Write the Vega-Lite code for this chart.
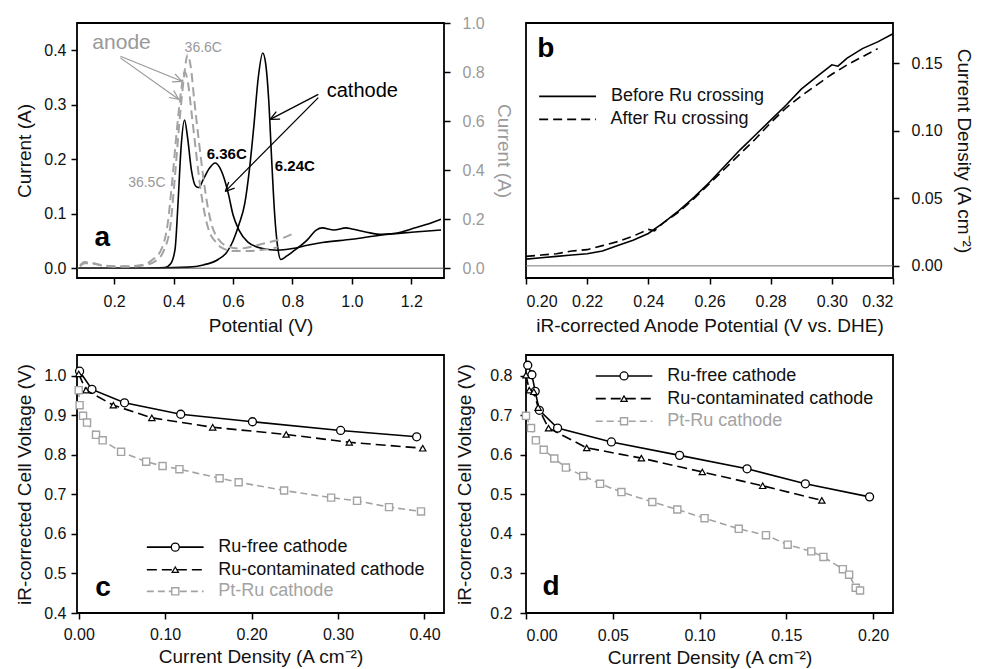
{
  "$schema": "https://vega.github.io/schema/vega-lite/v6.json",
  "background": "white",
  "data": {"values": [{"label": "annotation"}]},
  "padding": {"left": 14, "top": 14, "right": 0, "bottom": 0},
  "columns": 2,
  "spacing": {"row": 18, "column": -60},
  "config": {
    "view": {"stroke": "black", "strokeWidth": 1.8},
    "axis": {
      "domain": false, "grid": false, "tickColor": "black", "tickWidth": 1.5, "tickSize": 6,
      "labelFont": "Liberation Sans", "labelFontSize": 16, "labelColor": "#111", "labelPadding": 8,
      "titleFont": "Liberation Sans", "titleFontSize": 19, "titleFontWeight": "normal", "titleColor": "#111", "titlePadding": 6
    }
  },
  "concat": [
    {
      "width": 367, "height": 255,
      "resolve": {"scale": {"y": "independent"}},
      "layer": [
        {
          "layer": [
            {
              "data": {"values": [
                {"p": 0.08, "i": 0.0}, {"p": 0.2, "i": 0.0}, {"p": 0.3, "i": 0.0}, {"p": 0.37, "i": 0.001}, {"p": 0.39, "i": 0.008},
                {"p": 0.405, "i": 0.035}, {"p": 0.415, "i": 0.12}, {"p": 0.425, "i": 0.22}, {"p": 0.437, "i": 0.272}, {"p": 0.447, "i": 0.24},
                {"p": 0.46, "i": 0.18}, {"p": 0.475, "i": 0.15}, {"p": 0.485, "i": 0.148}, {"p": 0.5, "i": 0.163}, {"p": 0.52, "i": 0.183},
                {"p": 0.54, "i": 0.193}, {"p": 0.555, "i": 0.185}, {"p": 0.57, "i": 0.165}, {"p": 0.585, "i": 0.135}, {"p": 0.6, "i": 0.098},
                {"p": 0.62, "i": 0.07}, {"p": 0.65, "i": 0.048}, {"p": 0.7, "i": 0.036}, {"p": 0.75, "i": 0.033}, {"p": 0.8, "i": 0.036},
                {"p": 0.85, "i": 0.042}, {"p": 0.9, "i": 0.047}, {"p": 1.0, "i": 0.053}, {"p": 1.1, "i": 0.061}, {"p": 1.2, "i": 0.066}, {"p": 1.3, "i": 0.07}
              ]},
              "mark": {"type": "line", "color": "black", "strokeWidth": 1.6, "interpolate": "monotone"},
              "encoding": {
                "x": {"field": "p", "type": "quantitative", "scale": {"domain": [0.075, 1.31], "nice": false, "zero": false},
                  "axis": {"title": "Potential (V)", "values": [0.2, 0.4, 0.6, 0.8, 1.0, 1.2], "format": ".1f", "labelPadding": 9, "titlePadding": 7}},
                "y": {"field": "i", "type": "quantitative", "scale": {"domain": [-0.018, 0.45], "nice": false, "zero": false},
                  "axis": {"title": "Current (A)", "values": [0, 0.1, 0.2, 0.3, 0.4], "format": ".1f", "labelPadding": 5, "titlePadding": 9}}
              }
            },
            {
              "data": {"values": [
                {"p": 0.08, "i": 0.0}, {"p": 0.3, "i": 0.0}, {"p": 0.45, "i": 0.002}, {"p": 0.5, "i": 0.006}, {"p": 0.55, "i": 0.016},
                {"p": 0.58, "i": 0.03}, {"p": 0.6, "i": 0.05}, {"p": 0.62, "i": 0.08}, {"p": 0.64, "i": 0.12}, {"p": 0.655, "i": 0.18},
                {"p": 0.67, "i": 0.26}, {"p": 0.685, "i": 0.35}, {"p": 0.7, "i": 0.395}, {"p": 0.71, "i": 0.375}, {"p": 0.72, "i": 0.31},
                {"p": 0.73, "i": 0.2}, {"p": 0.74, "i": 0.1}, {"p": 0.75, "i": 0.04}, {"p": 0.761, "i": 0.016}, {"p": 0.78, "i": 0.022},
                {"p": 0.8, "i": 0.03}, {"p": 0.85, "i": 0.052}, {"p": 0.88, "i": 0.07}, {"p": 0.9, "i": 0.074}, {"p": 0.94, "i": 0.07},
                {"p": 0.98, "i": 0.074}, {"p": 1.0, "i": 0.072}, {"p": 1.05, "i": 0.066}, {"p": 1.1, "i": 0.062}, {"p": 1.15, "i": 0.064},
                {"p": 1.2, "i": 0.072}, {"p": 1.25, "i": 0.08}, {"p": 1.3, "i": 0.09}
              ]},
              "mark": {"type": "line", "color": "black", "strokeWidth": 1.6, "interpolate": "monotone"},
              "encoding": {
                "x": {"field": "p", "type": "quantitative"},
                "y": {"field": "i", "type": "quantitative"}
              }
            },
            {"mark": {"type": "rule", "color": "#555", "strokeWidth": 1}, "encoding": {"y": {"datum": 0, "type": "quantitative"}}},
            {"mark": {"type": "rule", "color": "#999", "strokeWidth": 1.2}, "encoding": {"x": {"datum": 0.221}, "y": {"datum": 0.389}, "x2": {"datum": 0.428}, "y2": {"datum": 0.343}}},
            {"mark": {"type": "rule", "color": "#999", "strokeWidth": 1.2}, "encoding": {"x": {"datum": 0.3945}, "y": {"datum": 0.3421}, "x2": {"datum": 0.428}, "y2": {"datum": 0.343}}},
            {"mark": {"type": "rule", "color": "#999", "strokeWidth": 1.2}, "encoding": {"x": {"datum": 0.4051}, "y": {"datum": 0.3564}, "x2": {"datum": 0.428}, "y2": {"datum": 0.343}}},
            {"mark": {"type": "rule", "color": "#999", "strokeWidth": 1.2}, "encoding": {"x": {"datum": 0.221}, "y": {"datum": 0.386}, "x2": {"datum": 0.417}, "y2": {"datum": 0.31}}},
            {"mark": {"type": "rule", "color": "#999", "strokeWidth": 1.2}, "encoding": {"x": {"datum": 0.384}, "y": {"datum": 0.3133}, "x2": {"datum": 0.417}, "y2": {"datum": 0.31}}},
            {"mark": {"type": "rule", "color": "#999", "strokeWidth": 1.2}, "encoding": {"x": {"datum": 0.4005}, "y": {"datum": 0.326}, "x2": {"datum": 0.417}, "y2": {"datum": 0.31}}},
            {"mark": {"type": "rule", "color": "black", "strokeWidth": 1.3}, "encoding": {"x": {"datum": 0.887}, "y": {"datum": 0.319}, "x2": {"datum": 0.725}, "y2": {"datum": 0.273}}},
            {"mark": {"type": "rule", "color": "black", "strokeWidth": 1.3}, "encoding": {"x": {"datum": 0.7455}, "y": {"datum": 0.2875}, "x2": {"datum": 0.725}, "y2": {"datum": 0.273}}},
            {"mark": {"type": "rule", "color": "black", "strokeWidth": 1.3}, "encoding": {"x": {"datum": 0.7585}, "y": {"datum": 0.2737}, "x2": {"datum": 0.725}, "y2": {"datum": 0.273}}},
            {"mark": {"type": "rule", "color": "black", "strokeWidth": 1.3}, "encoding": {"x": {"datum": 0.887}, "y": {"datum": 0.313}, "x2": {"datum": 0.574}, "y2": {"datum": 0.141}}},
            {"mark": {"type": "rule", "color": "black", "strokeWidth": 1.3}, "encoding": {"x": {"datum": 0.5857}, "y": {"datum": 0.1582}, "x2": {"datum": 0.574}, "y2": {"datum": 0.141}}},
            {"mark": {"type": "rule", "color": "black", "strokeWidth": 1.3}, "encoding": {"x": {"datum": 0.6056}, "y": {"datum": 0.1471}, "x2": {"datum": 0.574}, "y2": {"datum": 0.141}}},
            {"mark": {"type": "text", "font": "Liberation Sans", "text": "anode", "color": "#999", "fontSize": 21, "align": "center", "baseline": "middle"}, "encoding": {"x": {"datum": 0.225}, "y": {"datum": 0.413}}},
            {"mark": {"type": "text", "font": "Liberation Sans", "text": "36.6C", "color": "#999", "fontSize": 14, "align": "center", "baseline": "middle"}, "encoding": {"x": {"datum": 0.5}, "y": {"datum": 0.404}}},
            {"mark": {"type": "text", "font": "Liberation Sans", "text": "36.5C", "color": "#999", "fontSize": 14, "align": "center", "baseline": "middle"}, "encoding": {"x": {"datum": 0.31}, "y": {"datum": 0.157}}},
            {"mark": {"type": "text", "font": "Liberation Sans", "text": "6.36C", "color": "black", "fontSize": 15, "fontWeight": "bold", "align": "center", "baseline": "middle"}, "encoding": {"x": {"datum": 0.579}, "y": {"datum": 0.209}}},
            {"mark": {"type": "text", "font": "Liberation Sans", "text": "6.24C", "color": "black", "fontSize": 15, "fontWeight": "bold", "align": "center", "baseline": "middle"}, "encoding": {"x": {"datum": 0.808}, "y": {"datum": 0.187}}},
            {"mark": {"type": "text", "font": "Liberation Sans", "text": "cathode", "color": "black", "fontSize": 20, "align": "center", "baseline": "middle"}, "encoding": {"x": {"datum": 1.035}, "y": {"datum": 0.326}}},
            {"mark": {"type": "text", "font": "Liberation Sans", "text": "a", "color": "black", "fontSize": 28, "fontWeight": "bold", "align": "center", "baseline": "middle"}, "encoding": {"x": {"datum": 0.16}, "y": {"datum": 0.055}}}
          ]
        },
        {
          "layer": [
            {
              "data": {"values": [
                {"p": 0.085, "i": 0.01}, {"p": 0.1, "i": 0.025}, {"p": 0.13, "i": 0.02}, {"p": 0.16, "i": 0.012}, {"p": 0.2, "i": 0.008},
                {"p": 0.25, "i": 0.008}, {"p": 0.3, "i": 0.015}, {"p": 0.33, "i": 0.035}, {"p": 0.36, "i": 0.08}, {"p": 0.38, "i": 0.18},
                {"p": 0.395, "i": 0.35}, {"p": 0.41, "i": 0.55}, {"p": 0.425, "i": 0.72}, {"p": 0.437, "i": 0.8}, {"p": 0.448, "i": 0.76},
                {"p": 0.46, "i": 0.64}, {"p": 0.475, "i": 0.48}, {"p": 0.49, "i": 0.33}, {"p": 0.505, "i": 0.22}, {"p": 0.52, "i": 0.15},
                {"p": 0.54, "i": 0.11}, {"p": 0.56, "i": 0.085}, {"p": 0.6, "i": 0.07}, {"p": 0.65, "i": 0.07}, {"p": 0.7, "i": 0.075}, {"p": 0.75, "i": 0.085}
              ]},
              "mark": {"type": "line", "color": "#a3a3a3", "strokeWidth": 2, "strokeDash": [9, 5], "interpolate": "monotone"},
              "encoding": {
                "x": {"field": "p", "type": "quantitative"},
                "y": {"field": "i", "type": "quantitative", "scale": {"domain": [-0.04, 1.0], "nice": false, "zero": false},
                  "axis": {"orient": "right", "title": "Current (A)", "values": [0, 0.2, 0.4, 0.6, 0.8, 1.0], "format": ".1f",
                    "labelColor": "#9a9a9a", "titleColor": "#9a9a9a", "labelPadding": 12, "titlePadding": 9}}
              }
            },
            {
              "data": {"values": [
                {"p": 0.085, "i": 0.008}, {"p": 0.1, "i": 0.02}, {"p": 0.13, "i": 0.018}, {"p": 0.16, "i": 0.01}, {"p": 0.2, "i": 0.006},
                {"p": 0.25, "i": 0.006}, {"p": 0.3, "i": 0.012}, {"p": 0.34, "i": 0.03}, {"p": 0.37, "i": 0.08}, {"p": 0.39, "i": 0.18},
                {"p": 0.405, "i": 0.38}, {"p": 0.42, "i": 0.6}, {"p": 0.435, "i": 0.78}, {"p": 0.447, "i": 0.87}, {"p": 0.458, "i": 0.82},
                {"p": 0.47, "i": 0.68}, {"p": 0.485, "i": 0.52}, {"p": 0.5, "i": 0.37}, {"p": 0.515, "i": 0.25}, {"p": 0.53, "i": 0.17},
                {"p": 0.55, "i": 0.12}, {"p": 0.58, "i": 0.09}, {"p": 0.62, "i": 0.08}, {"p": 0.7, "i": 0.1}, {"p": 0.75, "i": 0.115}, {"p": 0.8, "i": 0.14}
              ]},
              "mark": {"type": "line", "color": "#a3a3a3", "strokeWidth": 2, "strokeDash": [9, 5], "interpolate": "monotone"},
              "encoding": {
                "x": {"field": "p", "type": "quantitative"},
                "y": {"field": "i", "type": "quantitative"}
              }
            }
          ]
        }
      ]
    },
    {
      "width": 367, "height": 255,
      "layer": [
        {
          "data": {"values": [
            {"p": 0.2, "j": 0.005}, {"p": 0.205, "j": 0.006}, {"p": 0.21, "j": 0.007}, {"p": 0.215, "j": 0.008}, {"p": 0.22, "j": 0.009},
            {"p": 0.225, "j": 0.011}, {"p": 0.23, "j": 0.015}, {"p": 0.235, "j": 0.019}, {"p": 0.24, "j": 0.024}, {"p": 0.245, "j": 0.032},
            {"p": 0.25, "j": 0.041}, {"p": 0.255, "j": 0.051}, {"p": 0.26, "j": 0.062}, {"p": 0.265, "j": 0.074}, {"p": 0.27, "j": 0.086},
            {"p": 0.275, "j": 0.097}, {"p": 0.28, "j": 0.108}, {"p": 0.285, "j": 0.119}, {"p": 0.29, "j": 0.131}, {"p": 0.295, "j": 0.14},
            {"p": 0.3, "j": 0.149}, {"p": 0.302, "j": 0.148}, {"p": 0.305, "j": 0.154}, {"p": 0.31, "j": 0.161}, {"p": 0.315, "j": 0.166}, {"p": 0.32, "j": 0.172}
          ]},
          "mark": {"type": "line", "color": "black", "strokeWidth": 1.6},
          "encoding": {
            "x": {"field": "p", "type": "quantitative", "scale": {"domain": [0.2, 0.32], "nice": false, "zero": false},
              "axis": {"title": "iR-corrected Anode Potential (V vs. DHE)", "values": [0.2, 0.22, 0.24, 0.26, 0.28, 0.3, 0.32], "format": ".2f", "labelPadding": 9, "titlePadding": 7}},
            "y": {"field": "j", "type": "quantitative", "scale": {"domain": [-0.009, 0.18], "nice": false, "zero": false},
              "axis": {"orient": "right", "title": "Current Density (A cm⁻²)", "values": [0, 0.05, 0.1, 0.15], "format": ".2f", "labelPadding": 12, "titlePadding": 11}}
          }
        },
        {
          "data": {"values": [
            {"p": 0.2, "j": 0.007}, {"p": 0.205, "j": 0.008}, {"p": 0.21, "j": 0.009}, {"p": 0.215, "j": 0.011}, {"p": 0.22, "j": 0.012},
            {"p": 0.225, "j": 0.015}, {"p": 0.23, "j": 0.018}, {"p": 0.235, "j": 0.022}, {"p": 0.24, "j": 0.027}, {"p": 0.242, "j": 0.026},
            {"p": 0.245, "j": 0.032}, {"p": 0.25, "j": 0.04}, {"p": 0.255, "j": 0.05}, {"p": 0.26, "j": 0.061}, {"p": 0.265, "j": 0.072},
            {"p": 0.27, "j": 0.083}, {"p": 0.275, "j": 0.094}, {"p": 0.28, "j": 0.106}, {"p": 0.285, "j": 0.117}, {"p": 0.29, "j": 0.126},
            {"p": 0.295, "j": 0.134}, {"p": 0.3, "j": 0.142}, {"p": 0.305, "j": 0.149}, {"p": 0.31, "j": 0.155}, {"p": 0.315, "j": 0.161}
          ]},
          "mark": {"type": "line", "color": "black", "strokeWidth": 1.6, "strokeDash": [9, 5]},
          "encoding": {
            "x": {"field": "p", "type": "quantitative"},
            "y": {"field": "j", "type": "quantitative"}
          }
        },
        {"mark": {"type": "rule", "color": "#777", "strokeWidth": 1}, "encoding": {"y": {"datum": 0, "type": "quantitative"}}},
        {"mark": {"type": "rule", "color": "black", "strokeWidth": 1.6}, "encoding": {"x": {"datum": 0.2043}, "x2": {"datum": 0.2229}, "y": {"datum": 0.1256}}},
        {"mark": {"type": "rule", "color": "black", "strokeWidth": 1.8, "strokeDash": [9, 5]}, "encoding": {"x": {"datum": 0.2043}, "x2": {"datum": 0.2229}, "y": {"datum": 0.1086}}},
        {"mark": {"type": "text", "font": "Liberation Sans", "text": "Before Ru crossing", "fontSize": 18, "align": "left", "baseline": "middle", "color": "#111"}, "encoding": {"x": {"datum": 0.2278}, "y": {"datum": 0.1256}}},
        {"mark": {"type": "text", "font": "Liberation Sans", "text": "After Ru crossing", "fontSize": 18, "align": "left", "baseline": "middle", "color": "#111"}, "encoding": {"x": {"datum": 0.2276}, "y": {"datum": 0.1086}}},
        {"mark": {"type": "text", "font": "Liberation Sans", "text": "b", "fontSize": 28, "fontWeight": "bold", "align": "center", "baseline": "middle", "color": "black"}, "encoding": {"x": {"datum": 0.2065}, "y": {"datum": 0.161}}}
      ]
    },
    {
      "width": 367, "height": 258,
      "layer": [
        {
          "data": {"values": [
            {"j": 0.001, "v": 1.012}, {"j": 0.0153, "v": 0.966}, {"j": 0.053, "v": 0.932}, {"j": 0.118, "v": 0.903},
            {"j": 0.201, "v": 0.884}, {"j": 0.303, "v": 0.862}, {"j": 0.391, "v": 0.846}
          ]},
          "mark": {"type": "line", "color": "black", "strokeWidth": 1.6},
          "encoding": {
            "x": {"field": "j", "type": "quantitative", "scale": {"domain": [-0.002, 0.4226], "nice": false, "zero": false},
              "axis": {"title": "Current Density (A cm⁻²)", "values": [0, 0.1, 0.2, 0.3, 0.4], "format": ".2f", "labelPadding": 7, "titlePadding": 5}},
            "y": {"field": "v", "type": "quantitative", "scale": {"domain": [0.4, 1.053], "nice": false, "zero": false},
              "axis": {"title": "iR-corrected Cell Voltage (V)", "values": [0.4, 0.5, 0.6, 0.7, 0.8, 0.9, 1.0], "format": ".1f", "labelPadding": 5, "titlePadding": 9}}
          }
        },
        {
          "data": {"values": [
            {"j": 0.001, "v": 1.012}, {"j": 0.0153, "v": 0.966}, {"j": 0.053, "v": 0.932}, {"j": 0.118, "v": 0.903},
            {"j": 0.201, "v": 0.884}, {"j": 0.303, "v": 0.862}, {"j": 0.391, "v": 0.846}
          ]},
          "mark": {"type": "point", "shape": "circle", "filled": true, "fill": "white", "stroke": "black", "strokeWidth": 1.3, "size": 64, "opacity": 1},
          "encoding": {"x": {"field": "j", "type": "quantitative"}, "y": {"field": "v", "type": "quantitative"}}
        },
        {
          "data": {"values": [
            {"j": 0.0, "v": 1.005}, {"j": 0.0084, "v": 0.964}, {"j": 0.04, "v": 0.926}, {"j": 0.0846, "v": 0.894},
            {"j": 0.155, "v": 0.87}, {"j": 0.24, "v": 0.852}, {"j": 0.313, "v": 0.832}, {"j": 0.398, "v": 0.817}
          ]},
          "mark": {"type": "line", "color": "black", "strokeWidth": 1.6, "strokeDash": [10, 5]},
          "encoding": {"x": {"field": "j", "type": "quantitative"}, "y": {"field": "v", "type": "quantitative"}}
        },
        {
          "data": {"values": [
            {"j": 0.0, "v": 1.005}, {"j": 0.0084, "v": 0.964}, {"j": 0.04, "v": 0.926}, {"j": 0.0846, "v": 0.894},
            {"j": 0.155, "v": 0.87}, {"j": 0.24, "v": 0.852}, {"j": 0.313, "v": 0.832}, {"j": 0.398, "v": 0.817}
          ]},
          "mark": {"type": "point", "shape": "triangle-up", "filled": true, "fill": "white", "stroke": "black", "strokeWidth": 1.2, "size": 40, "opacity": 1},
          "encoding": {"x": {"field": "j", "type": "quantitative"}, "y": {"field": "v", "type": "quantitative"}}
        },
        {
          "data": {"values": [
            {"j": 0.0, "v": 0.964}, {"j": 0.001, "v": 0.926}, {"j": 0.005, "v": 0.899}, {"j": 0.0096, "v": 0.882},
            {"j": 0.02, "v": 0.851}, {"j": 0.0277, "v": 0.837}, {"j": 0.049, "v": 0.808}, {"j": 0.078, "v": 0.783},
            {"j": 0.097, "v": 0.772}, {"j": 0.1165, "v": 0.764}, {"j": 0.163, "v": 0.741}, {"j": 0.185, "v": 0.731},
            {"j": 0.2376, "v": 0.71}, {"j": 0.292, "v": 0.692}, {"j": 0.322, "v": 0.684}, {"j": 0.359, "v": 0.668}, {"j": 0.396, "v": 0.657}
          ]},
          "mark": {"type": "line", "color": "#a3a3a3", "strokeWidth": 1.6, "strokeDash": [7, 4]},
          "encoding": {"x": {"field": "j", "type": "quantitative"}, "y": {"field": "v", "type": "quantitative"}}
        },
        {
          "data": {"values": [
            {"j": 0.0, "v": 0.964}, {"j": 0.001, "v": 0.926}, {"j": 0.005, "v": 0.899}, {"j": 0.0096, "v": 0.882},
            {"j": 0.02, "v": 0.851}, {"j": 0.0277, "v": 0.837}, {"j": 0.049, "v": 0.808}, {"j": 0.078, "v": 0.783},
            {"j": 0.097, "v": 0.772}, {"j": 0.1165, "v": 0.764}, {"j": 0.163, "v": 0.741}, {"j": 0.185, "v": 0.731},
            {"j": 0.2376, "v": 0.71}, {"j": 0.292, "v": 0.692}, {"j": 0.322, "v": 0.684}, {"j": 0.359, "v": 0.668}, {"j": 0.396, "v": 0.657}
          ]},
          "mark": {"type": "point", "shape": "square", "filled": true, "fill": "white", "stroke": "#a3a3a3", "strokeWidth": 1.4, "size": 50, "opacity": 1},
          "encoding": {"x": {"field": "j", "type": "quantitative"}, "y": {"field": "v", "type": "quantitative"}}
        },
        {"mark": {"type": "rule", "color": "black", "strokeWidth": 1.6}, "encoding": {"x": {"datum": 0.0788}, "x2": {"datum": 0.1445}, "y": {"datum": 0.5667}}},
        {"mark": {"type": "point", "shape": "circle", "filled": true, "fill": "white", "stroke": "black", "strokeWidth": 1.3, "size": 64, "opacity": 1}, "encoding": {"x": {"datum": 0.1117}, "y": {"datum": 0.5667}}},
        {"mark": {"type": "rule", "color": "black", "strokeWidth": 1.6, "strokeDash": [10, 5]}, "encoding": {"x": {"datum": 0.0788}, "x2": {"datum": 0.1445}, "y": {"datum": 0.5096}}},
        {"mark": {"type": "point", "shape": "triangle-up", "filled": true, "fill": "white", "stroke": "black", "strokeWidth": 1.2, "size": 40, "opacity": 1}, "encoding": {"x": {"datum": 0.1117}, "y": {"datum": 0.5096}}},
        {"mark": {"type": "rule", "color": "#a3a3a3", "strokeWidth": 1.6, "strokeDash": [7, 4]}, "encoding": {"x": {"datum": 0.0788}, "x2": {"datum": 0.1445}, "y": {"datum": 0.4548}}},
        {"mark": {"type": "point", "shape": "square", "filled": true, "fill": "white", "stroke": "#a3a3a3", "strokeWidth": 1.4, "size": 50, "opacity": 1}, "encoding": {"x": {"datum": 0.1117}, "y": {"datum": 0.4548}}},
        {"mark": {"type": "text", "font": "Liberation Sans", "text": "Ru-free cathode", "fontSize": 18, "align": "left", "baseline": "middle", "color": "#111"}, "encoding": {"x": {"datum": 0.1615}, "y": {"datum": 0.5667}}},
        {"mark": {"type": "text", "font": "Liberation Sans", "text": "Ru-contaminated cathode", "fontSize": 18, "align": "left", "baseline": "middle", "color": "#111"}, "encoding": {"x": {"datum": 0.1615}, "y": {"datum": 0.5096}}},
        {"mark": {"type": "text", "font": "Liberation Sans", "text": "Pt-Ru cathode", "fontSize": 18, "align": "left", "baseline": "middle", "color": "#a3a3a3"}, "encoding": {"x": {"datum": 0.1615}, "y": {"datum": 0.4548}}},
        {"mark": {"type": "text", "font": "Liberation Sans", "text": "c", "fontSize": 28, "fontWeight": "bold", "align": "center", "baseline": "middle", "color": "black"}, "encoding": {"x": {"datum": 0.028}, "y": {"datum": 0.463}}}
      ]
    },
    {
      "width": 367, "height": 258,
      "layer": [
        {
          "data": {"values": [
            {"j": 0.001, "v": 0.827}, {"j": 0.0034, "v": 0.803}, {"j": 0.0053, "v": 0.761}, {"j": 0.0077, "v": 0.713},
            {"j": 0.0182, "v": 0.668}, {"j": 0.0492, "v": 0.633}, {"j": 0.0885, "v": 0.599}, {"j": 0.1274, "v": 0.565},
            {"j": 0.161, "v": 0.527}, {"j": 0.198, "v": 0.494}
          ]},
          "mark": {"type": "line", "color": "black", "strokeWidth": 1.6},
          "encoding": {
            "x": {"field": "j", "type": "quantitative", "scale": {"domain": [0, 0.2115], "nice": false, "zero": false},
              "axis": {"title": "Current Density (A cm⁻²)", "values": [0, 0.05, 0.1, 0.15, 0.2], "format": ".2f", "labelPadding": 8, "titlePadding": 5}},
            "y": {"field": "v", "type": "quantitative", "scale": {"domain": [0.2, 0.853], "nice": false, "zero": false},
              "axis": {"title": "iR-corrected Cell Voltage (V)", "values": [0.2, 0.3, 0.4, 0.5, 0.6, 0.7, 0.8], "format": ".1f", "labelPadding": 8, "titlePadding": 15}}
          }
        },
        {
          "data": {"values": [
            {"j": 0.001, "v": 0.827}, {"j": 0.0034, "v": 0.803}, {"j": 0.0053, "v": 0.761}, {"j": 0.0077, "v": 0.713},
            {"j": 0.0182, "v": 0.668}, {"j": 0.0492, "v": 0.633}, {"j": 0.0885, "v": 0.599}, {"j": 0.1274, "v": 0.565},
            {"j": 0.161, "v": 0.527}, {"j": 0.198, "v": 0.494}
          ]},
          "mark": {"type": "point", "shape": "circle", "filled": true, "fill": "white", "stroke": "black", "strokeWidth": 1.3, "size": 64, "opacity": 1},
          "encoding": {"x": {"field": "j", "type": "quantitative"}, "y": {"field": "v", "type": "quantitative"}}
        },
        {
          "data": {"values": [
            {"j": 0.0, "v": 0.802}, {"j": 0.0019, "v": 0.764}, {"j": 0.0045, "v": 0.76}, {"j": 0.007, "v": 0.72},
            {"j": 0.013, "v": 0.668}, {"j": 0.035, "v": 0.618}, {"j": 0.0665, "v": 0.592}, {"j": 0.1016, "v": 0.557},
            {"j": 0.1364, "v": 0.522}, {"j": 0.1705, "v": 0.485}
          ]},
          "mark": {"type": "line", "color": "black", "strokeWidth": 1.6, "strokeDash": [10, 5]},
          "encoding": {"x": {"field": "j", "type": "quantitative"}, "y": {"field": "v", "type": "quantitative"}}
        },
        {
          "data": {"values": [
            {"j": 0.0, "v": 0.802}, {"j": 0.0019, "v": 0.764}, {"j": 0.0045, "v": 0.76}, {"j": 0.007, "v": 0.72},
            {"j": 0.013, "v": 0.668}, {"j": 0.035, "v": 0.618}, {"j": 0.0665, "v": 0.592}, {"j": 0.1016, "v": 0.557},
            {"j": 0.1364, "v": 0.522}, {"j": 0.1705, "v": 0.485}
          ]},
          "mark": {"type": "point", "shape": "triangle-up", "filled": true, "fill": "white", "stroke": "black", "strokeWidth": 1.2, "size": 40, "opacity": 1},
          "encoding": {"x": {"field": "j", "type": "quantitative"}, "y": {"field": "v", "type": "quantitative"}}
        },
        {
          "data": {"values": [
            {"j": 0.0, "v": 0.699}, {"j": 0.0029, "v": 0.668}, {"j": 0.0057, "v": 0.637}, {"j": 0.0102, "v": 0.613},
            {"j": 0.0163, "v": 0.591}, {"j": 0.023, "v": 0.568}, {"j": 0.033, "v": 0.547}, {"j": 0.0427, "v": 0.527},
            {"j": 0.055, "v": 0.506}, {"j": 0.0728, "v": 0.481}, {"j": 0.0872, "v": 0.462}, {"j": 0.1029, "v": 0.44},
            {"j": 0.1226, "v": 0.413}, {"j": 0.1383, "v": 0.397}, {"j": 0.1508, "v": 0.373}, {"j": 0.1644, "v": 0.356},
            {"j": 0.1714, "v": 0.342}, {"j": 0.1826, "v": 0.311}, {"j": 0.1862, "v": 0.297}, {"j": 0.19, "v": 0.264}, {"j": 0.1925, "v": 0.257}
          ]},
          "mark": {"type": "line", "color": "#a3a3a3", "strokeWidth": 1.6, "strokeDash": [7, 4]},
          "encoding": {"x": {"field": "j", "type": "quantitative"}, "y": {"field": "v", "type": "quantitative"}}
        },
        {
          "data": {"values": [
            {"j": 0.0, "v": 0.699}, {"j": 0.0029, "v": 0.668}, {"j": 0.0057, "v": 0.637}, {"j": 0.0102, "v": 0.613},
            {"j": 0.0163, "v": 0.591}, {"j": 0.023, "v": 0.568}, {"j": 0.033, "v": 0.547}, {"j": 0.0427, "v": 0.527},
            {"j": 0.055, "v": 0.506}, {"j": 0.0728, "v": 0.481}, {"j": 0.0872, "v": 0.462}, {"j": 0.1029, "v": 0.44},
            {"j": 0.1226, "v": 0.413}, {"j": 0.1383, "v": 0.397}, {"j": 0.1508, "v": 0.373}, {"j": 0.1644, "v": 0.356},
            {"j": 0.1714, "v": 0.342}, {"j": 0.1826, "v": 0.311}, {"j": 0.1862, "v": 0.297}, {"j": 0.19, "v": 0.264}, {"j": 0.1925, "v": 0.257}
          ]},
          "mark": {"type": "point", "shape": "square", "filled": true, "fill": "white", "stroke": "#a3a3a3", "strokeWidth": 1.4, "size": 50, "opacity": 1},
          "encoding": {"x": {"field": "j", "type": "quantitative"}, "y": {"field": "v", "type": "quantitative"}}
        },
        {"mark": {"type": "rule", "color": "black", "strokeWidth": 1.6}, "encoding": {"x": {"datum": 0.0402}, "x2": {"datum": 0.0728}, "y": {"datum": 0.8}}},
        {"mark": {"type": "point", "shape": "circle", "filled": true, "fill": "white", "stroke": "black", "strokeWidth": 1.3, "size": 64, "opacity": 1}, "encoding": {"x": {"datum": 0.0565}, "y": {"datum": 0.8}}},
        {"mark": {"type": "rule", "color": "black", "strokeWidth": 1.6, "strokeDash": [10, 5]}, "encoding": {"x": {"datum": 0.0402}, "x2": {"datum": 0.0728}, "y": {"datum": 0.7425}}},
        {"mark": {"type": "point", "shape": "triangle-up", "filled": true, "fill": "white", "stroke": "black", "strokeWidth": 1.2, "size": 40, "opacity": 1}, "encoding": {"x": {"datum": 0.0565}, "y": {"datum": 0.7425}}},
        {"mark": {"type": "rule", "color": "#a3a3a3", "strokeWidth": 1.6, "strokeDash": [7, 4]}, "encoding": {"x": {"datum": 0.0402}, "x2": {"datum": 0.0728}, "y": {"datum": 0.6853}}},
        {"mark": {"type": "point", "shape": "square", "filled": true, "fill": "white", "stroke": "#a3a3a3", "strokeWidth": 1.4, "size": 50, "opacity": 1}, "encoding": {"x": {"datum": 0.0565}, "y": {"datum": 0.6853}}},
        {"mark": {"type": "text", "font": "Liberation Sans", "text": "Ru-free cathode", "fontSize": 18, "align": "left", "baseline": "middle", "color": "#111"}, "encoding": {"x": {"datum": 0.0814}, "y": {"datum": 0.8}}},
        {"mark": {"type": "text", "font": "Liberation Sans", "text": "Ru-contaminated cathode", "fontSize": 18, "align": "left", "baseline": "middle", "color": "#111"}, "encoding": {"x": {"datum": 0.0814}, "y": {"datum": 0.7425}}},
        {"mark": {"type": "text", "font": "Liberation Sans", "text": "Pt-Ru cathode", "fontSize": 18, "align": "left", "baseline": "middle", "color": "#a3a3a3"}, "encoding": {"x": {"datum": 0.0814}, "y": {"datum": 0.6853}}},
        {"mark": {"type": "text", "font": "Liberation Sans", "text": "d", "fontSize": 28, "fontWeight": "bold", "align": "center", "baseline": "middle", "color": "black"}, "encoding": {"x": {"datum": 0.0144}, "y": {"datum": 0.266}}}
      ]
    }
  ]
}
